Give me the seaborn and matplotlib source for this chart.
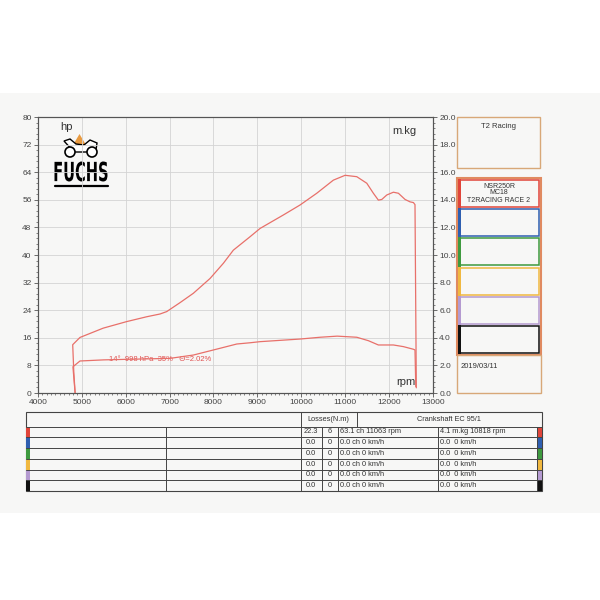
import numpy as np
import pandas as pd
import seaborn as sns
import matplotlib.pyplot as plt
from matplotlib.patches import Rectangle, Circle, Polygon, PathPatch
from matplotlib.textpath import TextPath
from matplotlib.font_manager import FontProperties
from matplotlib.transforms import Affine2D
from matplotlib.ticker import MultipleLocator, FormatStrFormatter

# dyno run values
power_rpm = [4850, 4820, 4795, 4960, 5490, 6025, 6480, 6784, 6936, 7240, 7542, 7923, 8226,
             8453, 8834, 9062, 9592, 9973, 10353, 10731, 10998, 11264, 11492, 11642, 11756,
             11834, 11948, 12098, 12212, 12364, 12478, 12554, 12590, 12620]
power_hp = [0.0, 6.0, 14.0, 16.1, 18.8, 20.7, 22.1, 22.9, 23.6, 26.2, 28.9, 33.2, 37.6,
            41.4, 45.3, 47.7, 51.6, 54.5, 57.9, 61.7, 63.1, 62.7, 60.8, 57.9, 55.9,
            56.1, 57.4, 58.2, 57.9, 56.1, 55.4, 55.2, 54.6, 1.5]

torque_rpm = [4850, 4800, 4961, 5500, 6025, 7011, 7542, 8150, 8531, 8834, 9062, 9973,
              10428, 10818, 11264, 11529, 11756, 12098, 12326, 12554, 12590, 12608]
torque_mkg = [0.0, 1.9, 2.32, 2.40, 2.44, 2.51, 2.75, 3.24, 3.55, 3.64, 3.72, 3.91,
              4.04, 4.12, 4.04, 3.79, 3.48, 3.48, 3.36, 3.17, 3.12, 0.46]

conditions = "14°  998 hPa  35%   Θ=2.02%"

# legend / table content
run_colors = ['#e0453a', '#2f5fb0', '#3f9a3f', '#f0b840', '#b49ad0', '#111111']
run_title = 'NSR250R\nMC18\nT2RACING RACE 2'
losses_a = ['22.3', '0.0', '0.0', '0.0', '0.0', '0.0']
losses_b = ['6', '0', '0', '0', '0', '0']
max_power = ['63.1 ch 11063 rpm'] + ['0.0 ch 0 km/h'] * 5
max_torque = ['4.1 m.kg 10818 rpm'] + ['0.0  0 km/h'] * 5

sns.set_theme(style='white')
plt.rcParams['font.family'] = ['Liberation Sans', 'DejaVu Sans']

curve_color = '#e8706a'
frame_color = '#555555'
tan = '#d8a878'

fig = plt.figure(figsize=(6, 6), dpi=100)
fig.patch.set_facecolor('white')

# background layer in pixel coordinates for page, logo, panels and table
bg = fig.add_axes([0, 0, 1, 1], zorder=0)
bg.set_xlim(0, 600)
bg.set_ylim(600, 0)
bg.axis('off')
bg.add_patch(Rectangle((0, 93), 600, 420, fc='#f7f7f6', ec='none'))

# main chart
ax = fig.add_axes([37.8 / 600, 1 - 393 / 600, (433 - 37.8) / 600, 276 / 600], zorder=2)
ax.set_facecolor('none')
df_p = pd.DataFrame({'rpm': power_rpm, 'hp': power_hp})
sns.lineplot(data=df_p, x='rpm', y='hp', ax=ax, sort=False, estimator=None,
             color=curve_color, linewidth=0.9)
ax.set_xlim(4000, 13000)
ax.set_ylim(0, 80)
ax.xaxis.set_major_locator(MultipleLocator(1000))
ax.xaxis.set_minor_locator(MultipleLocator(100))
ax.yaxis.set_major_locator(MultipleLocator(8))
ax.yaxis.set_minor_locator(MultipleLocator(1.6))
ax.grid(True, which='major', color='#d4d4d4', linewidth=0.6)
ax.set_xlabel('')
ax.set_ylabel('')
ax.tick_params(which='major', length=3, width=0.6, color=frame_color, labelsize=6,
               labelcolor='#444444', pad=1.5)
ax.tick_params(which='minor', length=1.6, width=0.5, color=frame_color)
ax.tick_params(axis='x', which='both', bottom=True)
ax.tick_params(axis='y', which='both', left=True)
for s in ax.spines.values():
    s.set_color(frame_color)
    s.set_linewidth(0.8)
ax.text(5620, 9.8, conditions, color='#e05050', fontsize=5.5, va='center')

ax2 = ax.twinx()
df_t = pd.DataFrame({'rpm': torque_rpm, 'mkg': torque_mkg})
sns.lineplot(data=df_t, x='rpm', y='mkg', ax=ax2, sort=False, estimator=None,
             color=curve_color, linewidth=0.9)
ax2.set_ylim(0, 20)
ax2.set_ylabel('')
ax2.yaxis.set_major_locator(MultipleLocator(2))
ax2.yaxis.set_minor_locator(MultipleLocator(0.4))
ax2.yaxis.set_major_formatter(FormatStrFormatter('%.1f'))
ax2.tick_params(axis='y', which='both', right=True, color=frame_color)
ax2.tick_params(which='major', length=3, width=0.6, labelsize=6, labelcolor='#444444', pad=1.5)
ax2.tick_params(which='minor', length=1.6, width=0.5)
for s in ax2.spines.values():
    s.set_color(frame_color)
    s.set_linewidth(0.8)

bg.text(60, 127, 'hp', fontsize=8, color='#333333', va='center')
bg.text(392, 131, 'm.kg', fontsize=8, color='#333333', va='center')
bg.text(396, 382, 'rpm', fontsize=8, color='#333333', va='center')

# FUCHS logo
bg.add_patch(Polygon([[79.5, 134], [73, 145], [86, 145]], closed=True, fc='#e89a40', ec='none'))
bg.add_patch(Polygon([[64, 141], [70, 139], [76, 144], [84, 145], [90, 140], [97, 143],
                      [96, 150], [86, 152], [74, 152]], closed=True, fc='white', ec='black', lw=1.0))
bg.add_patch(Circle((70, 152), 5, fc='white', ec='black', lw=1.2))
bg.add_patch(Circle((92, 152), 5, fc='white', ec='black', lw=1.2))
tp = TextPath((0, 0), 'FUCHS', size=1, prop=FontProperties(family='DejaVu Sans', weight='bold'))
ext = tp.get_extents()
sx = 53 / ext.width
sy = 20 / ext.height
tr = Affine2D().translate(-ext.x0, -ext.y0).scale(sx, -sy).translate(54.5, 181.5)
bg.add_patch(PathPatch(tr.transform_path(tp), fc='black', ec='none'))
bg.plot([54.5, 107.5], [186, 186], color='black', lw=1.6)

# right panel
bg.add_patch(Rectangle((457, 117), 83, 51, fill=False, ec=tan, lw=1.0))
bg.text(498.5, 126, 'T2 Racing', fontsize=5.5, ha='center', va='center', color='#333333')
bg.add_patch(Rectangle((457, 178), 84, 177, fill=False, ec='#e08a60', lw=1.5))
box_h = 176 / len(run_colors)
for i, c in enumerate(run_colors):
    y0 = 178.5 + i * box_h
    bg.add_patch(Rectangle((459.5, y0 + 1.2), 79.5, box_h - 2.4, fill=False, ec=c, lw=1.1))
    bg.add_patch(Rectangle((458, y0), 3, box_h, fc=c, ec='none'))
bg.text(499, 193, run_title, fontsize=5, ha='center', va='center', color='#333333',
        linespacing=1.0)
bg.add_patch(Rectangle((457, 355), 84, 38, fill=False, ec=tan, lw=1.0))
bg.text(461, 366, '2019/03/11', fontsize=5.5, va='center', color='#333333')

# bottom table
line_kw = dict(color='#444444', lw=0.7)
top, head_bot = 412, 426.5
row_h = (491 - head_bot) / len(run_colors)
bg.add_patch(Rectangle((26, top), 515.5, 491 - top, fill=False, ec='#444444', lw=0.8))
bg.plot([26, 541.5], [head_bot, head_bot], **line_kw)
for x in [300.7, 356.7]:
    bg.plot([x, x], [top, head_bot], **line_kw)
bg.text(328.7, 419.2, 'Losses(N.m)', fontsize=5.3, ha='center', va='center', color='#333333')
bg.text(449, 419.2, 'Crankshaft EC 95/1', fontsize=5.3, ha='center', va='center', color='#333333')
for x in [165.7, 300.7, 321.7, 338.3, 438.3, 536.7]:
    bg.plot([x, x], [head_bot, 491], **line_kw)
for i, c in enumerate(run_colors):
    y0 = head_bot + i * row_h
    if i > 0:
        bg.plot([26, 541.5], [y0, y0], **line_kw)
    yc = y0 + row_h / 2
    bg.add_patch(Rectangle((26, y0), 4, row_h, fc=c, ec='none'))
    bg.add_patch(Rectangle((536.7, y0), 4.8, row_h, fc=c, ec='none'))
    bg.text(311.2, yc, losses_a[i], fontsize=5.3, ha='center', va='center', color='#333333')
    bg.text(330, yc, losses_b[i], fontsize=5.3, ha='center', va='center', color='#333333')
    bg.text(340.5, yc, max_power[i], fontsize=5.3, va='center', color='#333333')
    bg.text(440.5, yc, max_torque[i], fontsize=5.3, va='center', color='#333333')

fig.savefig('out.png', dpi=100)
